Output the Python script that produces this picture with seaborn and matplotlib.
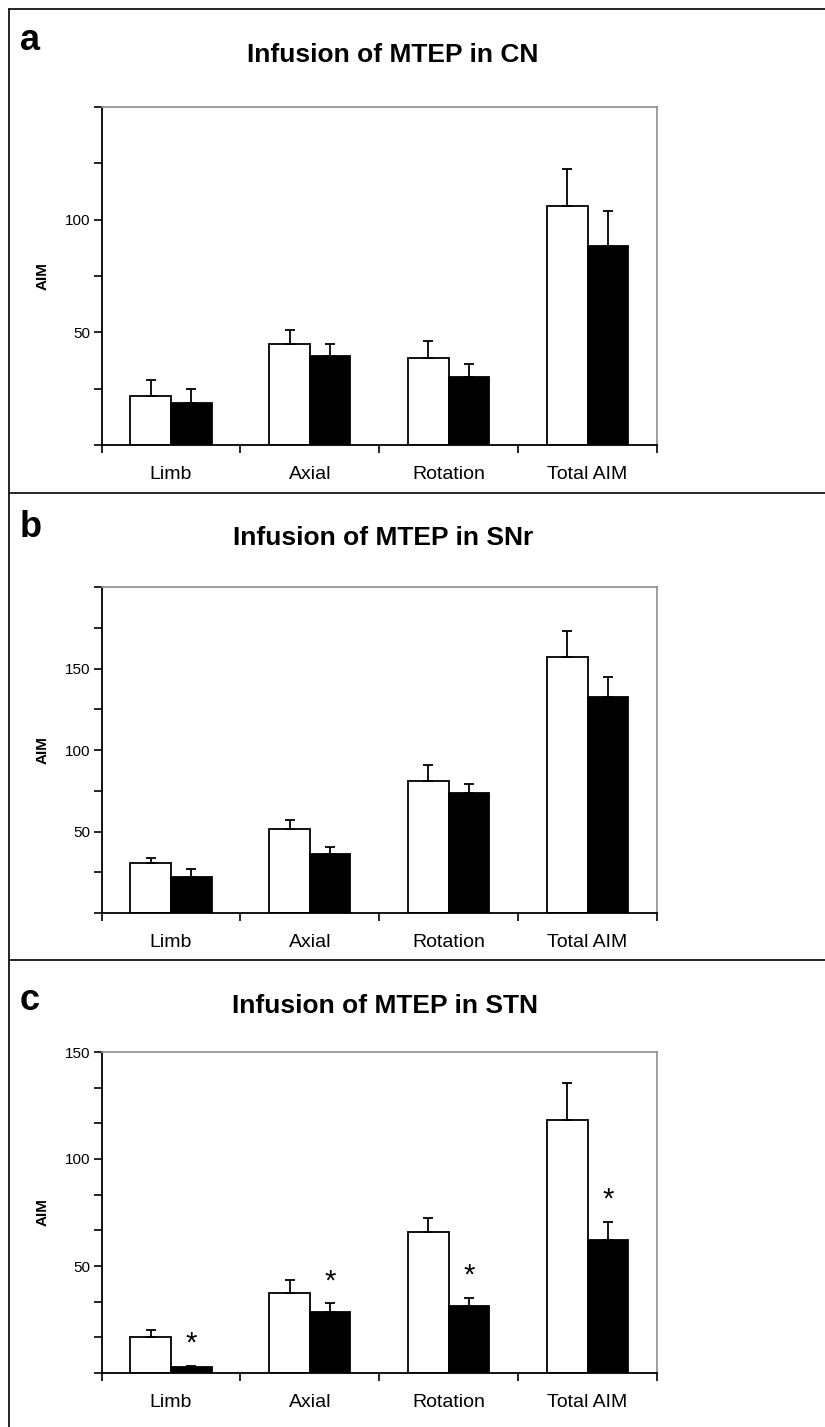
import numpy as np
import pandas as pd
import matplotlib
matplotlib.use("Agg")
import matplotlib.pyplot as plt
import seaborn as sns
from matplotlib.lines import Line2D
from matplotlib.ticker import FixedLocator, FuncFormatter

# ---------------- data ----------------
categories = ["Limb", "Axial", "Rotation", "Total AIM"]
groups = ["Vehicle", "MTEP"]

cn_vehicle = [21.8, 44.8, 38.6, 106.1]
cn_vehicle_sem = [7.1, 6.1, 7.4, 16.6]
cn_mtep = [18.6, 39.3, 30.3, 88.3]
cn_mtep_sem = [6.2, 5.5, 5.5, 15.7]

snr_vehicle = [30.4, 51.6, 81.0, 157.1]
snr_vehicle_sem = [3.6, 5.5, 10.0, 15.9]
snr_mtep = [22.2, 36.1, 73.9, 132.6]
snr_mtep_sem = [4.5, 4.3, 5.3, 11.9]

stn_vehicle = [17.0, 37.5, 65.8, 118.3]
stn_vehicle_sem = [3.1, 5.9, 6.8, 17.3]
stn_mtep = [2.8, 28.5, 31.1, 62.3]
stn_mtep_sem = [0.7, 4.0, 4.1, 8.3]
stn_significant = [True, True, True, True]

panel_letters = ["a", "b", "c"]
panel_titles = ["Infusion of MTEP in CN", "Infusion of MTEP in SNr", "Infusion of MTEP in STN"]
y_max = [150, 200, 150]
y_tick_step = [25, 25, 50 / 3]
y_labelled = [[50, 100], [50, 100, 150], [50, 100, 150]]

# ---------------- style ----------------
sns.set_style("ticks")
plt.rcParams["font.family"] = ["Liberation Sans", "DejaVu Sans"]
plt.rcParams["text.color"] = "black"
plt.rcParams["axes.labelcolor"] = "black"
plt.rcParams["xtick.color"] = "black"
plt.rcParams["ytick.color"] = "black"
plt.rcParams["xtick.labelcolor"] = "black"
plt.rcParams["ytick.labelcolor"] = "black"

W, H = 825, 1427
fig = plt.figure(figsize=(W / 100, H / 100), dpi=100)

def fx(px):
    return px / W

def fy(py):
    return 1 - py / H

axes_px = [(107, 445), (587, 913), (1052, 1373)]
left_px, right_px = 101.6, 657
title_pos = [(393, 61.7), (383, 545), (385.5, 1013.3)]
letter_pos = [(20, 50), (20, 537), (20, 1010)]

panels = [
    (cn_vehicle, cn_vehicle_sem, cn_mtep, cn_mtep_sem, None),
    (snr_vehicle, snr_vehicle_sem, snr_mtep, snr_mtep_sem, None),
    (stn_vehicle, stn_vehicle_sem, stn_mtep, stn_mtep_sem, stn_significant),
]

for i, (veh, veh_sem, mt, mt_sem, sig) in enumerate(panels):
    top, bot = axes_px[i]
    ax = fig.add_axes([fx(left_px), fy(bot), fx(right_px - left_px), (bot - top) / H])
    df = pd.DataFrame({
        "category": categories * 2,
        "value": veh + mt,
        "group": [groups[0]] * 4 + [groups[1]] * 4,
    })
    sns.barplot(data=df, x="category", y="value", hue="group", order=categories,
                hue_order=groups, palette=["white", "black"], edgecolor="black",
                linewidth=1.3, width=0.584, gap=0, errorbar=None, legend=False,
                saturation=1, ax=ax)
    sems = [veh_sem, mt_sem]
    for ci, (cont, sem) in enumerate(zip(ax.containers, sems)):
        xs = [b.get_x() + b.get_width() / 2 for b in cont]
        ys = [b.get_height() for b in cont]
        ax.errorbar(xs, ys, yerr=[np.zeros(len(sem)), sem], fmt="none",
                    ecolor="black", elinewidth=1.3, capsize=3.6, capthick=1.3,
                    zorder=1)
        if sig is not None and ci == 1:
            for x, y, s, flag in zip(xs, ys, sem, sig):
                if flag:
                    ax.annotate("*", xy=(x, y + s), xytext=(0, 6),
                                textcoords="offset points", ha="center",
                                va="bottom", fontsize=21)
    ax.set_xlim(-0.5, 3.5)
    ax.set_ylim(0, y_max[i])
    ticks = [k * y_tick_step[i] for k in range(int(round(y_max[i] / y_tick_step[i])) + 1)]
    ax.yaxis.set_major_locator(FixedLocator(ticks))
    lab = y_labelled[i]
    ax.yaxis.set_major_formatter(FuncFormatter(
        lambda v, p, lab=lab: f"{int(round(v))}" if any(abs(v - l) < 1e-6 for l in lab) else ""))
    ax.tick_params(axis="y", length=6, width=1.2, direction="out", pad=2,
                   labelsize=11, color="black", labelcolor="black")
    ax.set_xticks(range(len(categories)))
    ax.set_xticklabels(categories)
    ax.set_xticks([k - 0.5 for k in range(len(categories) + 1)], minor=True)
    ax.tick_params(axis="x", which="major", length=0, pad=15, labelsize=14,
                   labelcolor="black")
    ax.tick_params(axis="x", which="minor", length=6, width=1.2, direction="out",
                   color="black")
    ax.set_xlabel("")
    ax.set_ylabel("")
    ax.text(-0.107, 0.5, "AIM", transform=ax.transAxes, rotation=90,
            ha="center", va="center", fontsize=11, fontweight="bold")
    for s in ["left", "bottom"]:
        ax.spines[s].set_color("black")
        ax.spines[s].set_linewidth(1.3)
    for s in ["top", "right"]:
        ax.spines[s].set_visible(True)
        ax.spines[s].set_color("#8c8c8c")
        ax.spines[s].set_linewidth(1.2)

    tx, ty = title_pos[i]
    fig.text(fx(tx), fy(ty), panel_titles[i], ha="center", va="baseline",
             fontsize=19, fontweight="bold")
    lx, ly = letter_pos[i]
    fig.text(fx(lx), fy(ly), panel_letters[i], ha="left", va="baseline",
             fontsize=26, fontweight="bold")

# panel frame lines
frame_kw = dict(color="black", linewidth=1.2, transform=fig.transFigure)
for yy in [9.3, 492.7, 960]:
    fig.add_artist(Line2D([fx(9.3), 1.0], [fy(yy), fy(yy)], **frame_kw))
fig.add_artist(Line2D([fx(9.3), fx(9.3)], [fy(9.3), 0.0], **frame_kw))

fig.savefig("out.png", dpi=100)
